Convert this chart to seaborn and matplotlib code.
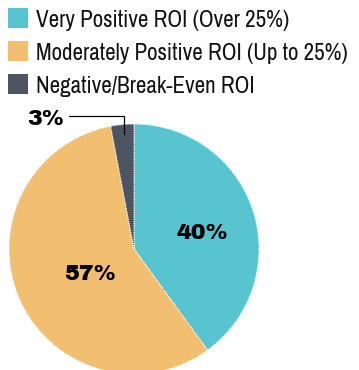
import matplotlib
matplotlib.use("Agg")
import matplotlib.pyplot as plt
from matplotlib.patches import Rectangle
import seaborn as sns

categories = ["Very Positive ROI (Over 25%)",
              "Moderately Positive ROI (Up to 25%)",
              "Negative/Break-Even ROI"]
shares = [40, 57, 3]
colors = ["#57C4CF", "#F2BE6F", "#4C5561"]

sns.set_theme(style="white")
plt.rcParams["font.family"] = ["Archivo Narrow", "DejaVu Sans"]

W, H = 359, 370
fig = plt.figure(figsize=(W / 100, H / 100), dpi=100)


def fx(x):
    return x / W


def fy(y):
    return 1 - y / H


# pie centred at (134, 249) px with radius 125 px
cx, cy, r = 134, 249, 125
ax = fig.add_axes([fx(cx - r), fy(cy + r), 2 * r / W, 2 * r / H])
ax.set_aspect("equal")
ax.pie(shares, colors=colors, startangle=90, counterclock=False, radius=1.0,
       wedgeprops=dict(edgecolor="white", linewidth=0.8, linestyle=(0, (1, 1))))
ax.set_xlim(-1, 1)
ax.set_ylim(-1, 1)
ax.axis("off")

label_font = dict(family=["Archivo Black", "DejaVu Sans"], fontsize=16,
                  color="black")
label_pos = [(0.545, 0.125), (-0.35, -0.20)]
for (x, y), v in zip(label_pos, shares[:2]):
    ax.text(x, y, f"{v}%", ha="center", va="center", **label_font)

# callout for the thin slice
ax.text(-0.56, 1.04, f"{shares[2]}%", ha="right", va="center",
        clip_on=False, **label_font)
ax.plot([-0.52, -0.08, -0.08], [1.064, 1.064, 0.92], color="black",
        lw=0.9, clip_on=False, solid_joinstyle="miter")

# legend: colour squares with labels
for i, (lab, c) in enumerate(zip(categories, colors)):
    top = 8 + i * 33
    fig.add_artist(Rectangle((fx(8), fy(top + 20)), 20 / W, 20 / H,
                             transform=fig.transFigure, facecolor=c,
                             edgecolor="none"))
    fig.text(fx(36), fy(top + 19), lab, ha="left", va="baseline",
             fontsize=16.6, color="#111111")

fig.savefig("out.png", dpi=100)
